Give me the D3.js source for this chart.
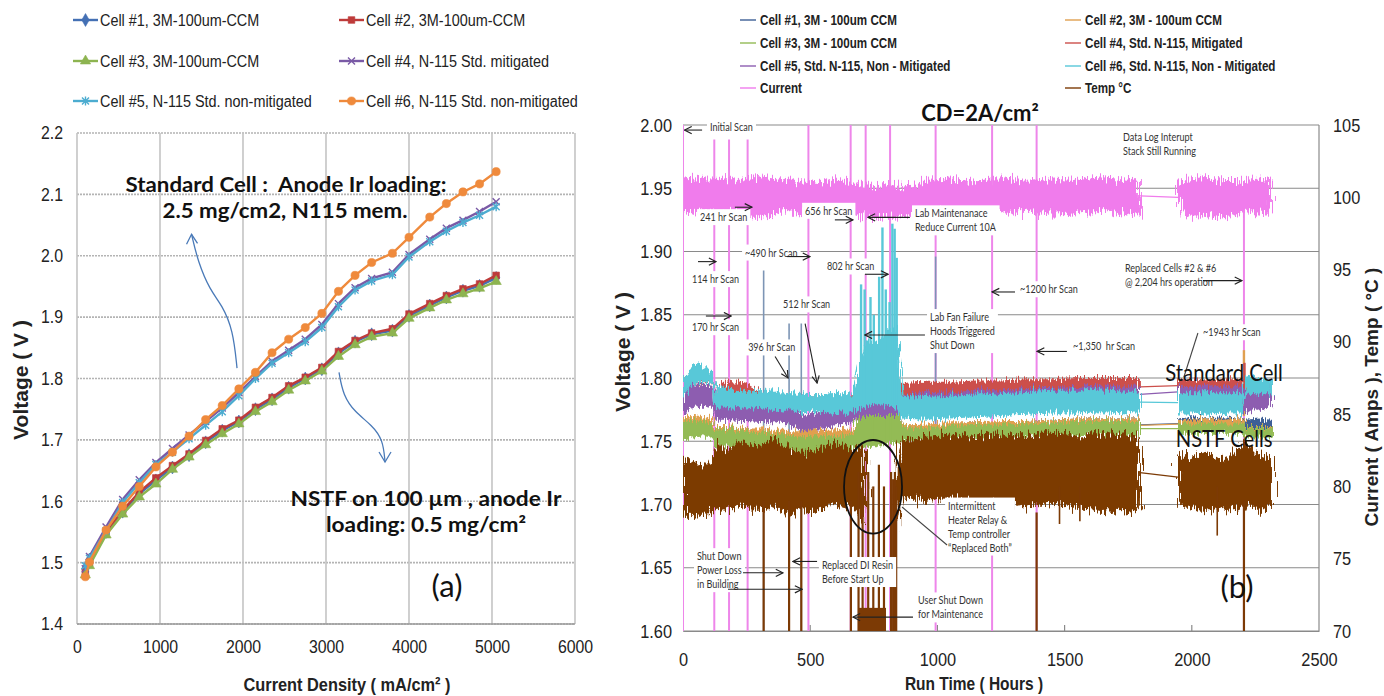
<!DOCTYPE html>
<html>
<head>
<meta charset="utf-8">
<script src="https://cdn.jsdelivr.net/npm/d3@7"></script>
<style>
  body { margin: 0; background: #fff; }
  svg { display: block; }
  text { font-family: "Liberation Sans", Arial, sans-serif; white-space: pre; }
  .cal { font-family: Lato, "Open Sans", sans-serif; }
</style>
</head>
<body>
<svg id="chart" width="1384" height="696"></svg>
<script>
// --------------- Data: (a) polarization curves ---------------
const CD = [100, 150, 350, 550, 750, 950, 1150, 1350, 1550, 1750, 1950, 2150, 2350, 2550, 2750, 2950, 3150, 3350, 3550, 3800, 4000, 4250, 4450, 4650, 4850, 5050];
const CELL1_IV = [1.490, 1.505, 1.550, 1.583, 1.612, 1.634, 1.655, 1.675, 1.696, 1.715, 1.730, 1.750, 1.766, 1.785, 1.800, 1.815, 1.841, 1.860, 1.872, 1.878, 1.902, 1.919, 1.932, 1.943, 1.951, 1.964];
const CELL2_IV = [1.485, 1.500, 1.550, 1.585, 1.615, 1.638, 1.658, 1.677, 1.699, 1.718, 1.732, 1.753, 1.769, 1.788, 1.802, 1.818, 1.844, 1.862, 1.874, 1.881, 1.905, 1.922, 1.935, 1.946, 1.954, 1.968];
const CELL3_IV = [1.480, 1.495, 1.545, 1.579, 1.607, 1.628, 1.652, 1.672, 1.692, 1.710, 1.726, 1.746, 1.762, 1.781, 1.796, 1.812, 1.836, 1.855, 1.868, 1.874, 1.898, 1.915, 1.928, 1.938, 1.947, 1.958];
const CELL4_IV = [1.490, 1.510, 1.558, 1.603, 1.635, 1.663, 1.686, 1.708, 1.730, 1.752, 1.777, 1.803, 1.828, 1.846, 1.864, 1.888, 1.922, 1.948, 1.963, 1.973, 2.002, 2.027, 2.045, 2.058, 2.072, 2.088];
const CELL5_IV = [1.495, 1.507, 1.552, 1.598, 1.630, 1.660, 1.680, 1.702, 1.724, 1.746, 1.772, 1.800, 1.825, 1.842, 1.860, 1.883, 1.917, 1.944, 1.959, 1.969, 1.998, 2.023, 2.040, 2.054, 2.066, 2.080];
const CELL6_IV = [1.477, 1.501, 1.553, 1.592, 1.624, 1.656, 1.680, 1.706, 1.733, 1.756, 1.783, 1.810, 1.842, 1.864, 1.883, 1.906, 1.942, 1.968, 1.989, 2.004, 2.030, 2.063, 2.085, 2.104, 2.117, 2.137];
const CD_TICKS = [0, 1000, 2000, 3000, 4000, 5000, 6000];
const V_TICKS_A = [1.4, 1.5, 1.6, 1.7, 1.8, 1.9, 2.0, 2.1, 2.2];

// --------------- Data: (b) durability run (band = low / high envelope) ---------------
const RUN_HRS = [0, 40, 80, 117, 122, 170, 220, 254, 314, 360,
  420, 470, 520, 580, 640, 665, 683, 720, 760, 800,
  840, 860, 950, 1050, 1150, 1250, 1350, 1450, 1550, 1650,
  1750, 1796, 1946, 2000, 2060, 2120, 2180, 2204, 2210, 2260,
  2315];
const LOG_GAP = [1796, 1946];
const C1_LO = [1.756, 1.757, 1.758, 1.757, 1.749, 1.749, 1.748, 1.748, 1.747, 1.746,
  1.746, 1.742, 1.742, 1.743, 1.744, 1.746, 1.749, 1.750, 1.751, 1.752,
  1.752, 1.754, 1.755, 1.756, 1.756, 1.757, 1.757, 1.758, 1.758, 1.759,
  1.758, 1.758, 1.760, 1.760, 1.761, 1.760, 1.761, 1.760, 1.758, 1.759,
  1.758];
const C1_HI = [1.768, 1.769, 1.768, 1.767, 1.761, 1.762, 1.760, 1.760, 1.759, 1.758,
  1.757, 1.755, 1.756, 1.756, 1.757, 1.758, 1.768, 1.776, 1.778, 1.782,
  1.786, 1.763, 1.763, 1.764, 1.765, 1.765, 1.766, 1.767, 1.768, 1.768,
  1.768, 1.768, 1.768, 1.769, 1.768, 1.769, 1.768, 1.768, 1.767, 1.768,
  1.767];
const C2_LO = [1.757, 1.758, 1.758, 1.757, 1.748, 1.748, 1.747, 1.747, 1.746, 1.745,
  1.745, 1.744, 1.744, 1.745, 1.746, 1.746, 1.748, 1.749, 1.750, 1.751,
  1.751, 1.753, 1.754, 1.755, 1.755, 1.756, 1.756, 1.757, 1.757, 1.758,
  1.757, 1.757, 1.760, 1.761, 1.760, 1.761, 1.760, 1.761, 1.756, 1.756,
  1.756];
const C2_HI = [1.769, 1.770, 1.769, 1.768, 1.762, 1.762, 1.761, 1.760, 1.760, 1.759,
  1.758, 1.758, 1.759, 1.759, 1.760, 1.759, 1.768, 1.777, 1.779, 1.783,
  1.787, 1.763, 1.764, 1.765, 1.765, 1.766, 1.766, 1.767, 1.768, 1.768,
  1.768, 1.768, 1.767, 1.767, 1.768, 1.767, 1.768, 1.767, 1.762, 1.762,
  1.762];
const C3_LO = [1.750, 1.753, 1.754, 1.753, 1.745, 1.745, 1.744, 1.744, 1.743, 1.742,
  1.742, 1.738, 1.738, 1.739, 1.740, 1.742, 1.745, 1.745, 1.746, 1.748,
  1.748, 1.750, 1.751, 1.752, 1.752, 1.753, 1.753, 1.754, 1.754, 1.755,
  1.754, 1.754, 1.756, 1.756, 1.756, 1.756, 1.756, 1.756, 1.753, 1.753,
  1.753];
const C3_HI = [1.766, 1.767, 1.766, 1.765, 1.760, 1.760, 1.759, 1.758, 1.757, 1.756,
  1.755, 1.753, 1.754, 1.754, 1.755, 1.756, 1.768, 1.778, 1.780, 1.785,
  1.790, 1.761, 1.761, 1.762, 1.763, 1.763, 1.764, 1.765, 1.766, 1.766,
  1.766, 1.766, 1.764, 1.764, 1.765, 1.764, 1.764, 1.764, 1.761, 1.761,
  1.761];
const C4_LO = [1.790, 1.795, 1.795, 1.795, 1.784, 1.789, 1.788, 1.787, 1.780, 1.780,
  1.780, 1.780, 1.780, 1.780, 1.780, 1.780, 1.780, 1.780, 1.780, 1.780,
  1.780, 1.781, 1.782, 1.783, 1.783, 1.784, 1.785, 1.785, 1.786, 1.786,
  1.786, 1.786, 1.789, 1.789, 1.789, 1.789, 1.789, 1.789, 1.784, 1.784,
  1.784];
const C4_HI = [1.800, 1.805, 1.805, 1.804, 1.790, 1.798, 1.797, 1.795, 1.788, 1.788,
  1.787, 1.787, 1.787, 1.787, 1.787, 1.787, 1.790, 1.790, 1.790, 1.790,
  1.790, 1.796, 1.797, 1.797, 1.798, 1.798, 1.799, 1.799, 1.800, 1.800,
  1.800, 1.800, 1.799, 1.799, 1.798, 1.799, 1.799, 1.799, 1.794, 1.794,
  1.794];
const C5_LO = [1.770, 1.777, 1.778, 1.777, 1.767, 1.767, 1.766, 1.766, 1.765, 1.765,
  1.764, 1.757, 1.759, 1.761, 1.764, 1.765, 1.768, 1.770, 1.770, 1.770,
  1.770, 1.773, 1.774, 1.775, 1.776, 1.777, 1.778, 1.778, 1.779, 1.780,
  1.780, 1.780, 1.784, 1.784, 1.784, 1.784, 1.784, 1.784, 1.772, 1.775,
  1.777];
const C5_HI = [1.790, 1.795, 1.794, 1.793, 1.780, 1.781, 1.779, 1.779, 1.777, 1.777,
  1.776, 1.770, 1.772, 1.774, 1.777, 1.778, 1.780, 1.782, 1.782, 1.782,
  1.782, 1.787, 1.788, 1.789, 1.790, 1.791, 1.792, 1.792, 1.793, 1.794,
  1.794, 1.794, 1.794, 1.793, 1.793, 1.794, 1.793, 1.793, 1.792, 1.794,
  1.795];
const C6_LO = [1.785, 1.795, 1.796, 1.795, 1.778, 1.777, 1.776, 1.777, 1.776, 1.775,
  1.774, 1.772, 1.773, 1.772, 1.773, 1.770, 1.775, 1.778, 1.780, 1.778,
  1.776, 1.768, 1.767, 1.768, 1.769, 1.770, 1.771, 1.772, 1.772, 1.773,
  1.772, 1.772, 1.772, 1.772, 1.771, 1.772, 1.772, 1.772, 1.788, 1.787,
  1.786];
const C6_HI = [1.800, 1.811, 1.810, 1.806, 1.793, 1.792, 1.790, 1.789, 1.791, 1.790,
  1.789, 1.788, 1.787, 1.788, 1.789, 1.785, 1.800, 1.830, 1.828, 1.835,
  1.840, 1.786, 1.785, 1.786, 1.787, 1.788, 1.789, 1.790, 1.790, 1.791,
  1.790, 1.790, 1.789, 1.788, 1.788, 1.789, 1.788, 1.788, 1.802, 1.800,
  1.799];
const CUR_LO = [98.9, 99.0, 98.9, 99.0, 98.8, 98.9, 99.0, 98.7, 98.6, 98.9,
  99.0, 98.8, 99.1, 98.9, 99.0, 98.7, 98.6, 98.8, 98.5, 98.8,
  98.6, 98.7, 99.0, 98.9, 98.8, 98.9, 99.0, 98.8, 98.9, 99.0,
  98.8, 98.9, 98.9, 98.7, 98.8, 98.6, 98.9, 98.8, 99.0, 98.8,
  98.9];
const CUR_HI = [101.4, 101.3, 101.5, 101.2, 101.3, 101.4, 101.2, 101.3, 101.5, 101.2,
  101.3, 101.1, 101.0, 101.2, 101.3, 100.8, 100.9, 101.0, 100.7, 100.8,
  101.0, 100.6, 101.2, 101.3, 101.1, 101.4, 101.2, 101.3, 101.2, 101.4,
  101.2, 101.3, 101.1, 101.3, 101.4, 101.2, 101.2, 101.1, 101.2, 101.3,
  101.2];
const TEMP_LO = [78.0, 77.8, 78.2, 78.0, 78.5, 78.3, 78.6, 78.4, 78.2, 78.6,
  78.0, 78.4, 78.2, 78.8, 78.5, 78.6, 78.2, 77.5, null, null,
  77.0, 79.2, 79.0, 79.2, 78.8, 79.0, 78.6, 78.8, 78.4, 78.3,
  78.2, 78.5, 78.8, 78.6, 78.2, 78.5, 78.4, 78.6, 78.8, 78.3,
  78.5];
const TEMP_HI = [82.0, 81.8, 81.5, 81.8, 83.0, 82.5, 83.2, 82.8, 83.0, 83.3,
  82.6, 82.4, 82.5, 83.0, 82.8, 82.5, 82.8, 82.5, null, null,
  81.8, 83.2, 83.5, 83.6, 83.4, 83.7, 83.5, 83.8, 83.5, 83.8,
  83.6, 83.4, 82.5, 82.0, 82.4, 81.8, 82.6, 83.0, 83.2, 82.2,
  82.0];

// scans / shutdowns: [hour, top] (current in A, temp in °C) – drops run off the bottom
const CUR_SCANS = [[0, 105], [123, 104], [181, 104], [254, 104], [493, 105], [659, 105], [718, 105], [814, 105], [993, 105], [1215, 105], [1390, 105], [2205, 100]];
const TEMP_DROPS = [[317, 79], [417, 79], [465, 79], [660, 79], [690, 81], [706, 80], [728, 81], [748, 80], [770, 81.5], [790, 80], [818, 81], [826, 80.5], [833, 81], [838, 80], [1390, 78.2], [2205, 79]];
const TEMP_DIPS = [[1480, 77.4], [1560, 77.6], [2100, 76.6]];
const TEMP_FLOOR = [[690, 71.6], [798, 71.6]];
// voltage excursions: [hour, from V, to V]
const C1_SPIKES = [[317, 1.60, 1.885], [417, 1.60, 1.843], [465, 1.60, 1.843], [993, 1.755, 1.896]];
const C2_SPIKES = [[2205, 1.770, 1.822]];
const C3_SPIKES = [[745, 1.75, 1.80], [790, 1.75, 1.80], [815, 1.75, 1.795]];
const C4_SPIKES = [[2207, 1.780, 1.812]];
const C6_SPIKES = [[700, 1.78, 1.874], [714, 1.78, 1.870], [737, 1.78, 1.864], [750, 1.78, 1.850], [771, 1.78, 1.880], [784, 1.78, 1.919], [797, 1.78, 1.870], [812, 1.78, 1.860], [823, 1.78, 1.922], [832, 1.78, 1.918], [840, 1.78, 1.895]];

const HRS_TICKS = [0, 500, 1000, 1500, 2000, 2500];
const V_TICKS_B = [1.60, 1.65, 1.70, 1.75, 1.80, 1.85, 1.90, 1.95, 2.00];
const R_TICKS_B = [70, 75, 80, 85, 90, 95, 100, 105];

// annotations of (b), anchored in data units [hour, volt]
const NOTES = [
  { text: ["Initial Scan"], at: [106, 1.995] },
  { text: ["241 hr Scan"], at: [67, 1.924] },
  { text: ["656 hr Scan"], at: [480, 1.929] },
  { text: ["Lab Maintenanace", "Reduce Current 10A"], at: [912, 1.927] },
  { text: ["~490 hr Scan"], at: [244, 1.896] },
  { text: ["114 hr Scan"], at: [35, 1.875] },
  { text: ["802 hr Scan"], at: [566, 1.885] },
  { text: ["170 hr Scan"], at: [35, 1.837] },
  { text: ["512 hr Scan"], at: [393, 1.855] },
  { text: ["396 hr Scan"], at: [256, 1.821] },
  { text: ["Lab Fan Failure", "Hoods Triggered", "Shut Down"], at: [971, 1.845] },
  { text: ["Data Log Interupt", "Stack Still Running"], at: [1730, 1.987] },
  { text: ["Replaced Cells #2 & #6", "@ 2,204 hrs operation"], at: [1737, 1.884] },
  { text: ["~1200 hr Scan"], at: [1325, 1.867] },
  { text: ["~1,350  hr Scan"], at: [1533, 1.822] },
  { text: ["~1943 hr Scan"], at: [2044, 1.833] },
  { text: ["Intermittent", "Heater Relay &", "Temp controller", "\u201cReplaced Both\u201d"], at: [1042, 1.696] },
  { text: ["Shut Down", "Power Loss", "in Building"], at: [55, 1.656] },
  { text: ["Replaced DI Resin", "Before Start Up"], at: [546, 1.649] },
  { text: ["User Shut Down", "for Maintenance"], at: [924, 1.621] },
];
const NOTE_ARROWS = [
  [[75, 1.996], [6, 1.996]], [[204, 1.935], [271, 1.935]], [[597, 1.925], [668, 1.925]],
  [[892, 1.927], [727, 1.927]], [[409, 1.896], [499, 1.896]], [[59, 1.892], [130, 1.892]],
  [[715, 1.882], [806, 1.882]], [[90, 1.849], [189, 1.849]], [[480, 1.843], [527, 1.796]],
  [[362, 1.817], [413, 1.800]], [[951, 1.834], [715, 1.834]], [[2044, 1.877], [2197, 1.877]],
  [[1305, 1.868], [1215, 1.868]], [[1509, 1.821], [1392, 1.821]], [[236, 1.646], [393, 1.646]],
  [[177, 1.633], [468, 1.633]], [[527, 1.655], [432, 1.655]], [[904, 1.611], [668, 1.611]],
];
const NOTE_LEADERS = [[[2024, 1.8356], [1969, 1.8008]], [[1038, 1.668], [861, 1.698]]];
const CIRCLE = { at: [747, 1.714], dh: 114, dv: 0.037 };

// curved pointers of (a), in data units [mA/cm2, V]
const A_ARROW_STD = [[1928, 1.817], [1880, 1.879], [1747, 1.920], [1602, 1.944], [1458, 1.990], [1380, 2.035]];
const A_ARROW_NSTF = [[3157, 1.810], [3205, 1.773], [3349, 1.745], [3554, 1.724], [3687, 1.700], [3711, 1.664]];

// --------------- Setup ---------------
const svg = d3.select("#chart");
const defs = svg.append("defs");

function squish(sel, k) {
  sel.each(function () {
    const w = this.getComputedTextLength();
    d3.select(this).attr("textLength", w * k).attr("lengthAdjust", "spacingAndGlyphs");
  });
}

// =============== (a) ===============
const xA = d3.scaleLinear().domain([0, 6000]).range([77, 575]);
const yA = d3.scaleLinear().domain([1.4, 2.2]).range([624, 133]);
const gA = svg.append("g");

gA.append("g").selectAll("line").data(V_TICKS_A).join("line")
  .attr("x1", xA(0)).attr("x2", xA(6000))
  .attr("y1", d => yA(d)).attr("y2", d => yA(d))
  .attr("stroke", "#b4b4b4").attr("stroke-width", 1.6).attr("stroke-dasharray", "2,1");
gA.append("g").selectAll("line").data(CD_TICKS).join("line")
  .attr("x1", d => xA(d)).attr("x2", d => xA(d))
  .attr("y1", yA(1.4)).attr("y2", yA(2.2))
  .attr("stroke", "#c4c4c4").attr("stroke-width", 1.6);
gA.append("line").attr("x1", xA(0)).attr("x2", xA(6000)).attr("y1", yA(1.4)).attr("y2", yA(1.4))
  .attr("stroke", "#9a9a9a").attr("stroke-width", 1.5);

const axA_x = gA.append("g").attr("transform", `translate(0,${yA(1.4)})`)
  .call(d3.axisBottom(xA).tickValues(CD_TICKS).tickFormat(d3.format("d")).tickSize(0).tickPadding(16));
axA_x.select(".domain").remove();
axA_x.selectAll("text").attr("font-size", 18).attr("fill", "#222").attr("font-family", "Liberation Sans, Arial");
squish(axA_x.selectAll("text"), 0.88);

const axA_y = gA.append("g").attr("transform", `translate(${xA(0)},0)`)
  .call(d3.axisLeft(yA).tickValues(V_TICKS_A).tickFormat(d3.format(".1f")).tickSize(0).tickPadding(14));
axA_y.select(".domain").remove();
axA_y.selectAll("text").attr("font-size", 18).attr("fill", "#222").attr("font-family", "Liberation Sans, Arial");
squish(axA_y.selectAll("text"), 0.88);

const SERIES_A = [
  { name: "Cell #1, 3M-100um-CCM", values: CELL1_IV, color: "#4470b4", marker: "diamond" },
  { name: "Cell #2, 3M-100um-CCM", values: CELL2_IV, color: "#be3b3a", marker: "square" },
  { name: "Cell #3, 3M-100um-CCM", values: CELL3_IV, color: "#8db450", marker: "triangle" },
  { name: "Cell #4, N-115 Std. mitigated", values: CELL4_IV, color: "#7a5aa6", marker: "x" },
  { name: "Cell #5, N-115 Std. non-mitigated", values: CELL5_IV, color: "#4cacd0", marker: "star" },
  { name: "Cell #6, N-115 Std. non-mitigated", values: CELL6_IV, color: "#ef8a3c", marker: "circle" },
];

function markerPath(kind) {
  if (kind === "diamond") return d3.symbol(d3.symbolDiamond, 48)();
  if (kind === "square") return d3.symbol(d3.symbolSquare, 44)();
  if (kind === "triangle") return d3.symbol(d3.symbolTriangle, 46)();
  if (kind === "circle") return d3.symbol(d3.symbolCircle, 52)();
  if (kind === "x") return "M-3.5,-3.5L3.5,3.5M-3.5,3.5L3.5,-3.5";
  return "M-3.5,-3.5L3.5,3.5M-3.5,3.5L3.5,-3.5M0,-4.5L0,4.5";
}
function drawMarker(sel, s) {
  const open = s.marker === "x" || s.marker === "star";
  sel.attr("d", markerPath(s.marker))
    .attr("fill", open ? "none" : s.color)
    .attr("stroke", s.color).attr("stroke-width", open ? 1.4 : 0.6);
}

const lineA = d3.line().x((d, i) => xA(CD[i])).y(d => yA(d));
SERIES_A.forEach(s => {
  const g = gA.append("g");
  g.append("path").attr("d", lineA(s.values)).attr("fill", "none")
    .attr("stroke", s.color).attr("stroke-width", 2.4);
  g.selectAll("path.m").data(s.values).join("path").attr("class", "m")
    .attr("transform", (d, i) => `translate(${xA(CD[i])},${yA(d)})`)
    .call(drawMarker, s);
});

// legend (a)
const legA = svg.append("g");
SERIES_A.forEach((s, i) => {
  const x0 = i % 2 === 0 ? 73 : 339;
  const y0 = [20, 61, 101][Math.floor(i / 2)];
  legA.append("line").attr("x1", x0).attr("x2", x0 + 25).attr("y1", y0).attr("y2", y0)
    .attr("stroke", s.color).attr("stroke-width", 2.4);
  legA.append("path").attr("transform", `translate(${x0 + 12.5},${y0})`).call(drawMarker, s);
  const t = legA.append("text").attr("x", x0 + 27).attr("y", y0 + 5.5)
    .attr("font-size", 16).attr("fill", "#222").text(s.name);
  squish(t, 0.9);
});

// pointers & notes (a)
const curveA = d3.line().x(d => xA(d[0])).y(d => yA(d[1])).curve(d3.curveBasis);
gA.append("path").attr("d", curveA(A_ARROW_STD)).attr("fill", "none").attr("stroke", "#4a7ab8").attr("stroke-width", 1.3);
gA.append("path").attr("d", curveA(A_ARROW_NSTF)).attr("fill", "none").attr("stroke", "#4a7ab8").attr("stroke-width", 1.3);
function chevron(g, tip, dir) {
  const [tx, ty] = tip;
  const d = dir === "up" ? `M${tx - 5},${ty + 10}L${tx},${ty}L${tx + 6},${ty + 9}` : `M${tx - 6},${ty - 10}L${tx},${ty}L${tx + 6},${ty - 10}`;
  g.append("path").attr("d", d).attr("fill", "none").attr("stroke", "#4a7ab8").attr("stroke-width", 1.3);
}
const stdTip = A_ARROW_STD[A_ARROW_STD.length - 1];
chevron(gA, [xA(stdTip[0]), yA(stdTip[1])], "up");
const nstfTip = A_ARROW_NSTF[A_ARROW_NSTF.length - 1];
chevron(gA, [xA(nstfTip[0]), yA(nstfTip[1])], "down");

function calText(g, x, y, str, size, weight, k) {
  const t = g.append("text").attr("class", "cal").attr("x", x).attr("y", y)
    .attr("text-anchor", "middle").attr("font-size", size).attr("font-weight", weight)
    .attr("fill", "#111").text(str);
  if (k) squish(t, k);
  return t;
}
calText(gA, 286, 192, "Standard Cell :  Anode Ir loading:", 21, 700, 1.06);
calText(gA, 285, 218, "2.5 mg/cm2, N115 mem.", 21, 700, 1.06);
calText(gA, 426, 506, "NSTF on 100 \u00b5m , anode Ir", 21, 700, 1.08);
calText(gA, 426, 532, "loading: 0.5 mg/cm\u00b2", 21, 700, 1.08);
calText(gA, 447, 597, "(a)", 31, 400);

svg.append("text").attr("transform", "translate(28,380) rotate(-90)").attr("text-anchor", "middle")
  .attr("font-size", 21).attr("font-weight", 700).attr("fill", "#222").text("Voltage ( V )");
squish(svg.append("text").attr("x", 347).attr("y", 691).attr("text-anchor", "middle")
  .attr("font-size", 19).attr("font-weight", 700).attr("fill", "#222").text("Current Density ( mA/cm\u00b2 )"), 0.86);

// =============== (b) ===============
const xB = d3.scaleLinear().domain([0, 2500]).range([683, 1319]);
const yB = d3.scaleLinear().domain([1.6, 2.0]).range([631, 125]);
const yR = d3.scaleLinear().domain([70, 105]).range([631, 125]);
const gB = svg.append("g");

defs.append("clipPath").attr("id", "clipB").append("rect")
  .attr("x", xB(0)).attr("y", yB(2.0)).attr("width", xB(2500) - xB(0)).attr("height", yB(1.6) - yB(2.0));
function fuzz(id, scale, freq) {
  const f = defs.append("filter").attr("id", id).attr("filterUnits", "userSpaceOnUse")
    .attr("x", 660).attr("y", 100).attr("width", 700).attr("height", 560);
  f.append("feTurbulence").attr("type", "fractalNoise").attr("baseFrequency", freq)
    .attr("numOctaves", 2).attr("seed", 7).attr("result", "noise");
  f.append("feDisplacementMap").attr("in", "SourceGraphic").attr("in2", "noise")
    .attr("scale", scale).attr("xChannelSelector", "R").attr("yChannelSelector", "G");
}
fuzz("fuzzCell", 14, "0.75 0.05");
fuzz("fuzzWide", 22, "0.8 0.04");

// gridlines
gB.append("g").selectAll("line").data(V_TICKS_B).join("line")
  .attr("x1", xB(0)).attr("x2", xB(2500)).attr("y1", d => yB(d)).attr("y2", d => yB(d))
  .attr("stroke", "#8a8a8a").attr("stroke-width", 1.2);
gB.append("line").attr("x1", xB(2500)).attr("x2", xB(2500)).attr("y1", yB(2.0)).attr("y2", yB(1.6))
  .attr("stroke", "#8a8a8a").attr("stroke-width", 1.2);
gB.append("g").selectAll("line").data(HRS_TICKS.slice(1, -1)).join("line")
  .attr("x1", d => xB(d)).attr("x2", d => xB(d)).attr("y1", yB(1.6)).attr("y2", yB(1.6) - 6)
  .attr("stroke", "#8a8a8a").attr("stroke-width", 1.2);

const SERIES_B = [
  { name: "Cell #1, 3M - 100um CCM", lo: C1_LO, hi: C1_HI, color: "#3d5f96", y: yB, spikes: C1_SPIKES, spikeColor: "#7d95b5" },
  { name: "Cell #2, 3M - 100um CCM", lo: C2_LO, hi: C2_HI, color: "#e0a050", y: yB, spikes: C2_SPIKES },
  { name: "Cell #3, 3M - 100um CCM", lo: C3_LO, hi: C3_HI, color: "#93bb55", y: yB, spikes: C3_SPIKES },
  { name: "Cell #4, Std. N-115, Mitigated", lo: C4_LO, hi: C4_HI, color: "#cc4f4b", y: yB, spikes: C4_SPIKES },
  { name: "Cell #5, Std. N-115, Non - Mitigated", lo: C5_LO, hi: C5_HI, color: "#8d5db0", y: yB, spikes: [] },
  { name: "Cell #6, Std. N-115, Non - Mitigated", lo: C6_LO, hi: C6_HI, color: "#58c8d8", y: yB, spikes: C6_SPIKES },
  { name: "Current", lo: CUR_LO, hi: CUR_HI, color: "#f07cec", y: yR, spikes: [] },
  { name: "Temp \u00b0C", lo: TEMP_LO, hi: TEMP_HI, color: "#7c3a05", y: yR, spikes: [] },
];

const plotB = gB.append("g").attr("clip-path", "url(#clipB)");

// current scan drops sit behind the bands
plotB.append("g").selectAll("line").data(CUR_SCANS).join("line")
  .attr("x1", d => xB(d[0])).attr("x2", d => xB(d[0]))
  .attr("y1", d => yR(d[1])).attr("y2", yR(68))
  .attr("stroke", "#ee86ea").attr("stroke-width", 2);
SERIES_B[0].spikes.forEach(d => {
  plotB.append("line").attr("x1", xB(d[0])).attr("x2", xB(d[0]))
    .attr("y1", yB(d[2])).attr("y2", yB(d[1])).attr("stroke", SERIES_B[0].spikeColor).attr("stroke-width", 1.6);
});

SERIES_B.forEach((s, si) => {
  const rows = RUN_HRS.map((h, i) => ({ h, lo: s.lo[i], hi: s.hi[i] }));
  const area = d3.area().defined(d => d.lo != null)
    .x(d => xB(d.h)).y0(d => s.y(d.lo)).y1(d => s.y(d.hi));
  const segA = rows.filter(d => d.h <= LOG_GAP[0]);
  const segB = rows.filter(d => d.h >= LOG_GAP[1]);
  const g = plotB.append("g").attr("filter", si >= 6 ? "url(#fuzzWide)" : "url(#fuzzCell)");
  [segA, segB].forEach(seg => g.append("path").attr("d", area(seg)).attr("fill", s.color));
  // straight link drawn across the data-log gap
  const a = segA[segA.length - 1], b = segB[0];
  plotB.append("line").attr("x1", xB(a.h)).attr("x2", xB(b.h))
    .attr("y1", s.y((a.lo + a.hi) / 2)).attr("y2", s.y((b.lo + b.hi) / 2))
    .attr("stroke", s.color).attr("stroke-width", 1.2);
  if (si > 0) {
    s.spikes.forEach(d => {
      plotB.append("line").attr("x1", xB(d[0])).attr("x2", xB(d[0]))
        .attr("y1", yB(d[2])).attr("y2", yB(d[1])).attr("stroke", s.color).attr("stroke-width", 2.4);
    });
  }
});

// temperature excursions
const tempColor = SERIES_B[7].color;
plotB.append("g").selectAll("line").data(TEMP_DROPS).join("line")
  .attr("x1", d => xB(d[0])).attr("x2", d => xB(d[0]))
  .attr("y1", d => yR(d[1])).attr("y2", yR(68))
  .attr("stroke", tempColor).attr("stroke-width", 2.2);
plotB.append("g").selectAll("line").data(TEMP_DIPS).join("line")
  .attr("x1", d => xB(d[0])).attr("x2", d => xB(d[0]))
  .attr("y1", yR(80)).attr("y2", d => yR(d[1]))
  .attr("stroke", tempColor).attr("stroke-width", 1.6);
plotB.append("path")
  .attr("d", d3.area().x(d => xB(d[0])).y0(yR(70)).y1(d => yR(d[1]))(TEMP_FLOOR))
  .attr("fill", tempColor);

// annotations (b)
const notesBox = gB.append("g");
const notesTxt = gB.append("g");
defs.append("marker").attr("id", "head").attr("viewBox", "0 0 10 10").attr("refX", 9).attr("refY", 5)
  .attr("markerWidth", 9).attr("markerHeight", 9).attr("orient", "auto-start-reverse")
  .attr("markerUnits", "userSpaceOnUse")
  .append("path").attr("d", "M1,1L9,5L1,9").attr("fill", "none").attr("stroke", "#222").attr("stroke-width", 1.3);

NOTES.forEach(n => {
  const g = notesTxt.append("g");
  n.text.forEach((line, i) => {
    const t = g.append("text").attr("class", "cal").attr("x", xB(n.at[0])).attr("y", yB(n.at[1]) + i * 14)
      .attr("font-size", 10.5).attr("fill", "#333").text(line);
    squish(t, 0.86);
  });
  const bb = g.node().getBBox();
  notesBox.append("rect").attr("x", bb.x - 3).attr("y", bb.y - 2)
    .attr("width", bb.width + 6).attr("height", bb.height + 4).attr("fill", "#fff");
});
const lineB = d3.line().x(d => xB(d[0])).y(d => yB(d[1]));
notesTxt.append("g").selectAll("path").data(NOTE_ARROWS).join("path")
  .attr("d", lineB).attr("fill", "none").attr("stroke", "#222").attr("stroke-width", 1.1)
  .attr("marker-end", "url(#head)");
notesTxt.append("g").selectAll("path").data(NOTE_LEADERS).join("path")
  .attr("d", lineB).attr("fill", "none").attr("stroke", "#444").attr("stroke-width", 1.1);
notesTxt.append("ellipse").attr("cx", xB(CIRCLE.at[0])).attr("cy", yB(CIRCLE.at[1]))
  .attr("rx", xB(CIRCLE.dh) - xB(0)).attr("ry", yB(1.6) - yB(1.6 + CIRCLE.dv))
  .attr("fill", "none").attr("stroke", "#111").attr("stroke-width", 1.8);

calText(gB, xB(2127), yB(1.7976), "Standard Cell", 23, 400, 0.88);
calText(gB, xB(2127), yB(1.7455), "NSTF Cells", 23, 400, 0.88);
calText(gB, xB(2178), yB(1.626), "(b)", 31, 400);
calText(svg, 980, 121, "CD=2A/cm\u00b2", 22, 700, 1.0);

// axes (b)
const axB_x = gB.append("g").attr("transform", `translate(0,${yB(1.6)})`)
  .call(d3.axisBottom(xB).tickValues(HRS_TICKS).tickFormat(d3.format("d")).tickSize(0).tickPadding(22));
axB_x.select(".domain").attr("stroke", "#8a8a8a").attr("stroke-width", 1.2);
axB_x.selectAll("text").attr("font-size", 19).attr("fill", "#222").attr("font-family", "Liberation Sans, Arial");
squish(axB_x.selectAll("text"), 0.86);

const axB_y = gB.append("g").attr("transform", `translate(${xB(0)},0)`)
  .call(d3.axisLeft(yB).tickValues(V_TICKS_B).tickFormat(d3.format(".2f")).tickSize(0).tickPadding(11));
axB_y.select(".domain").remove();
axB_y.selectAll("text").attr("font-size", 19).attr("fill", "#222").attr("font-family", "Liberation Sans, Arial");
squish(axB_y.selectAll("text"), 0.86);

const axB_r = gB.append("g").attr("transform", `translate(${xB(2500)},0)`)
  .call(d3.axisRight(yR).tickValues(R_TICKS_B).tickSize(0).tickPadding(14));
axB_r.select(".domain").remove();
axB_r.selectAll("text").attr("font-size", 19).attr("fill", "#222").attr("font-family", "Liberation Sans, Arial");
squish(axB_r.selectAll("text"), 0.86);

svg.append("text").attr("transform", "translate(630,352) rotate(-90)").attr("text-anchor", "middle")
  .attr("font-size", 21).attr("font-weight", 700).attr("fill", "#222").text("Voltage ( V )");
svg.append("text").attr("transform", "translate(1378,397) rotate(-90)").attr("text-anchor", "middle")
  .attr("font-size", 19).attr("font-weight", 700).attr("fill", "#222").text("Current ( Amps ), Temp ( \u00b0C )");
squish(svg.append("text").attr("x", 974).attr("y", 690).attr("text-anchor", "middle")
  .attr("font-size", 18).attr("font-weight", 700).attr("fill", "#222").text("Run Time ( Hours )"), 0.86);

// legend (b)
const legB = svg.append("g");
SERIES_B.forEach((s, i) => {
  const x0 = i % 2 === 0 ? 740 : 1065;
  const y0 = [20, 43, 66, 88][Math.floor(i / 2)];
  legB.append("line").attr("x1", x0).attr("x2", x0 + 16).attr("y1", y0).attr("y2", y0)
    .attr("stroke", s.color).attr("stroke-width", 1.4);
  const t = legB.append("text").attr("x", x0 + 20).attr("y", y0 + 5)
    .attr("font-size", 14).attr("font-weight", 700).attr("fill", "#222").text(s.name);
  squish(t, 0.83);
});
</script>
</body>
</html>
